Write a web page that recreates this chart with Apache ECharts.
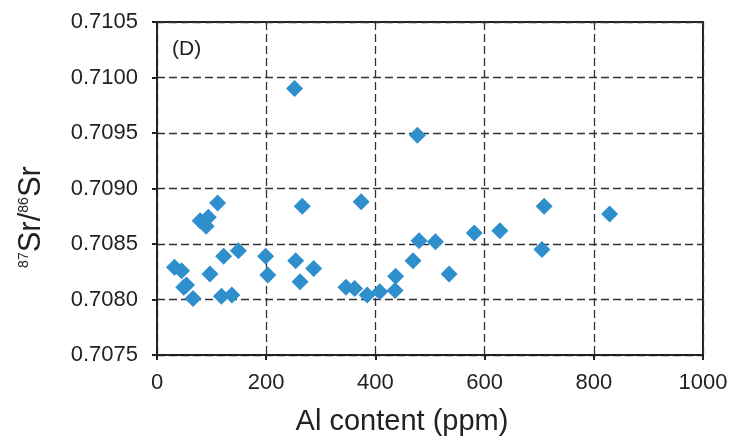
<!DOCTYPE html>
<html>
<head>
<meta charset="utf-8">
<script src="https://cdn.jsdelivr.net/npm/echarts@6/dist/echarts.min.js"></script>
<style>html,body{margin:0;padding:0;background:#fff}#c{width:740px;height:439px}</style>
</head>
<body>
<div id="c"></div>
<script>
var alContent = [252, 477, 111, 79, 94, 90, 266, 374, 32, 45, 54, 49, 66, 97, 122, 149, 118, 137, 199, 203, 254, 262, 287, 346, 362, 385, 408, 436, 437, 469, 480, 510, 535, 581, 628, 709, 705, 829];
var srRatio = [0.70990, 0.70948, 0.70887, 0.70871, 0.70874, 0.70866, 0.70884, 0.70888, 0.70829, 0.70826, 0.70813, 0.70811, 0.70801, 0.70823, 0.70839, 0.70844, 0.70803, 0.70804, 0.70839, 0.70822, 0.70835, 0.70816, 0.70828, 0.70811, 0.70810, 0.70804, 0.70807, 0.70808, 0.70821, 0.70835, 0.70853, 0.70852, 0.70823, 0.70860, 0.70862, 0.70884, 0.70845, 0.70877];
var xTicks = [0, 200, 400, 600, 800, 1000];
var yTicks = [0.7075, 0.7080, 0.7085, 0.7090, 0.7095, 0.7100, 0.7105];
var panelLabel = '(D)';
var xTitle = 'Al content (ppm)';

var pts = alContent.map(function (x, i) { return [x, srRatio[i]]; });
var font = 'Arial, "Liberation Sans", sans-serif';
var chart = echarts.init(document.getElementById('c'));
chart.setOption({
  animation: false,
  backgroundColor: '#fff',
  grid: { left: 157, right: 37, top: 22, bottom: 84, show: true, borderColor: '#222', borderWidth: 2, backgroundColor: 'transparent' },
  xAxis: {
    type: 'value', min: xTicks[0], max: xTicks[xTicks.length - 1], interval: xTicks[1] - xTicks[0],
    axisLine: { show: true, lineStyle: { color: '#222', width: 2 } },
    axisTick: { show: true, length: 5, lineStyle: { color: '#222', width: 2 } },
    axisLabel: { color: '#222', fontSize: 22, fontFamily: font, margin: 17, formatter: function (v) { return String(v); } },
    splitLine: { show: true, lineStyle: { color: '#333', width: 1.3, type: [8, 4] } }
  },
  yAxis: {
    type: 'value', min: yTicks[0], max: yTicks[yTicks.length - 1], interval: 0.0005,
    axisLine: { show: true, lineStyle: { color: '#222', width: 2 } },
    axisTick: { show: true, length: 5, lineStyle: { color: '#222', width: 2 } },
    axisLabel: { color: '#222', fontSize: 22, fontFamily: font, margin: 19,
      formatter: function (v) { return v.toFixed(4); } },
    splitLine: { show: true, lineStyle: { color: '#333', width: 1.3, type: [8, 4] } }
  },
  series: [{
    type: 'scatter',
    symbol: 'diamond',
    symbolSize: 17,
    itemStyle: { color: '#2f8fcc', opacity: 1 },
    data: pts
  }],
  graphic: [
    { type: 'text', x: 172, y: 49, style: { text: panelLabel, fontSize: 21, fontFamily: font, fill: '#222', verticalAlign: 'middle' } },
    { type: 'text', x: 402, y: 422, style: { text: xTitle, fontSize: 29, fontFamily: font, fill: '#222', align: 'center', verticalAlign: 'middle' } },
    { type: 'text', x: 31, y: 217, rotation: Math.PI / 2,
      style: { text: '{s|87}{b|Sr/}{s|86}{b|Sr}', align: 'center', verticalAlign: 'middle', fill: '#222',
        rich: { b: { fontSize: 31, fontFamily: font, fill: '#222', lineHeight: 34 },
                s: { fontSize: 14, fontFamily: font, fill: '#222', lineHeight: 34, padding: [0, 0, 14, 0] } } } }
  ]
});
</script>
</body>
</html>
